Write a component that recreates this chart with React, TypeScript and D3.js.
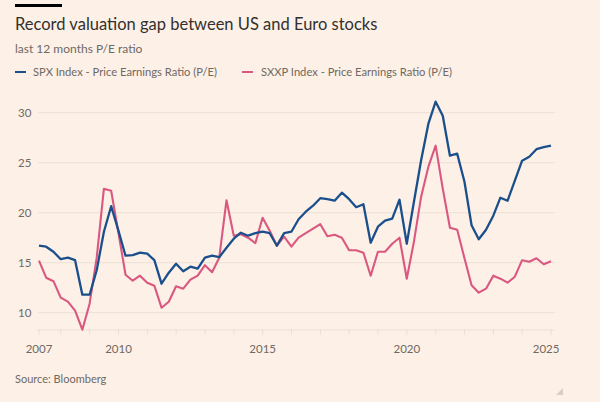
import React from "react";
import * as d3 from "d3";

const title = "Record valuation gap between US and Euro stocks";
const subtitle = "last 12 months P/E ratio";
const source = "Source: Bloomberg";
const seriesNames = ["SPX Index - Price Earnings Ratio (P/E)", "SXXP Index - Price Earnings Ratio (P/E)"];

// quarter-end observations, first and last quarter
const firstQuarterEnd = new Date(2007, 2, 31);
const lastQuarterEnd = new Date(2024, 11, 31);

const spx = [
  16.7, 16.6, 16.1, 15.35, 15.5, 15.25, 11.8, 11.8, 14.25, 18.1, 20.65, 18.2,
  15.7, 15.75, 16.0, 15.9, 15.25, 12.9, 14.0, 14.9, 14.15, 14.6, 14.4, 15.5,
  15.7, 15.55, 16.5, 17.4, 18.0, 17.7, 17.95, 18.1, 17.95, 16.7, 17.95, 18.1,
  19.35, 20.1, 20.7, 21.45, 21.35, 21.2, 22.0, 21.35, 20.55, 20.85, 17.0, 18.6,
  19.2, 19.4, 21.3, 16.9, 21.1, 25.25, 28.9, 31.1, 29.7, 25.7, 25.9, 23.1,
  18.75, 17.35, 18.3, 19.7, 21.5, 21.2, 23.2, 25.2, 25.6, 26.35, 26.55, 26.7,
];

const sxxp = [
  15.2, 13.5, 13.15, 11.5, 11.1, 10.2, 8.3, 10.9, 15.5, 22.4, 22.2, 18.0,
  13.8, 13.2, 13.7, 13.0, 12.7, 10.5, 11.1, 12.65, 12.4, 13.3, 13.7, 14.75,
  14.05, 15.5, 21.25, 17.7, 17.85, 17.5, 16.95, 19.5, 18.2, 16.7, 17.6, 16.6,
  17.5, 17.95, 18.4, 18.85, 17.65, 17.8, 17.5, 16.25, 16.25, 16.0, 13.7, 16.1,
  16.1, 16.9, 17.5, 13.4, 17.1, 21.6, 24.6, 26.7, 22.4, 18.5, 18.3, 15.45,
  12.75, 12.0, 12.4, 13.7, 13.4, 13.0, 13.6, 15.25, 15.1, 15.45, 14.85, 15.15,
];

const yTicks = [10, 15, 20, 25, 30];
const xLabelYears = [2007, 2010, 2015, 2020, 2025];

const BG = "#fdf0e6";
const BLUE = "#1b4f8c";
const PINK = "#da5880";
const TEXT = "#33302e";
const MUTED = "#6f6964";
const GRID = "#ece0d6";
const FONT = "Lato, 'Open Sans', sans-serif";

export default function App() {
  const W = 600;
  const H = 402;

  const dates = d3.range(spx.length).map((i) => d3.timeMonth.offset(new Date(2007, 3, 1), 3 * i));
  const quarterEnds = dates.map((d) => d3.timeDay.offset(d, -1));

  const x = d3.scaleTime().domain([firstQuarterEnd, lastQuarterEnd]).range([39, 551]);
  const y = d3.scaleLinear().domain([10, 30]).range([312.7, 112.7]);

  const line = d3
    .line<number>()
    .x((_, i) => x(quarterEnds[i]))
    .y((v) => y(v))
    .curve(d3.curveLinear);

  const axisY = 330;
  const yearTicks = d3.timeYear.range(new Date(2008, 0, 1), new Date(2025, 0, 2));
  const tickXs = [x(firstQuarterEnd), ...yearTicks.map((d) => x(d))];

  const labelX = (yr: number) => {
    if (yr === 2007) return x(firstQuarterEnd);
    const px = x(new Date(yr, 0, 1));
    return yr === 2025 ? px - 5 : px;
  };

  return (
    <svg width={W} height={H} style={{ position: "absolute", left: 0, top: 0, display: "block" }}>
      <rect width={W} height={H} fill={BG} />
      <rect x={15} y={4} width={47} height={3} fill="#000" />
      <text x={15} y={29.5} fontFamily={FONT} fontSize={16.5} fill={TEXT}>
        {title}
      </text>
      <text x={15} y={53} fontFamily={FONT} fontSize={12} fill={MUTED}>
        {subtitle}
      </text>

      {/* legend */}
      <line x1={15} x2={26} y1={72} y2={72} stroke={BLUE} strokeWidth={2} />
      <text x={33} y={76} fontFamily={FONT} fontSize={11.2} fill={MUTED}>
        {seriesNames[0]}
      </text>
      <line x1={242} x2={253} y1={72} y2={72} stroke={PINK} strokeWidth={2} />
      <text x={261} y={76} fontFamily={FONT} fontSize={11.2} fill={MUTED}>
        {seriesNames[1]}
      </text>

      {/* grid + y labels */}
      {yTicks.map((t) => (
        <g key={t}>
          <line x1={38} x2={555} y1={y(t)} y2={y(t)} stroke={GRID} strokeWidth={1} />
          <text x={18} y={y(t)} dy="0.35em" fontFamily={FONT} fontSize={11.5} fill={MUTED}>
            {t}
          </text>
        </g>
      ))}

      {/* x axis */}
      <line x1={37} x2={555} y1={axisY} y2={axisY} stroke={GRID} strokeWidth={1} />
      {tickXs.map((tx, i) => (
        <line key={i} x1={tx} x2={tx} y1={axisY - 1} y2={axisY + 5} stroke={GRID} strokeWidth={1} />
      ))}
      {xLabelYears.map((yr) => (
        <text
          key={yr}
          x={labelX(yr)}
          y={349}
          dy="0.35em"
          textAnchor="middle"
          fontFamily={FONT}
          fontSize={11.5}
          fill={MUTED}
        >
          {yr}
        </text>
      ))}

      {/* lines */}
      <path d={line(sxxp) ?? ""} fill="none" stroke={PINK} strokeWidth={2.1} strokeLinejoin="round" />
      <path d={line(spx) ?? ""} fill="none" stroke={BLUE} strokeWidth={2.3} strokeLinejoin="round" />

      <text x={15} y={383} fontFamily={FONT} fontSize={11} fill={MUTED}>
        {source}
      </text>
      <path d="M563,388 L563,395 L556,395 Z" fill="#d8cfc8" />
    </svg>
  );
}
